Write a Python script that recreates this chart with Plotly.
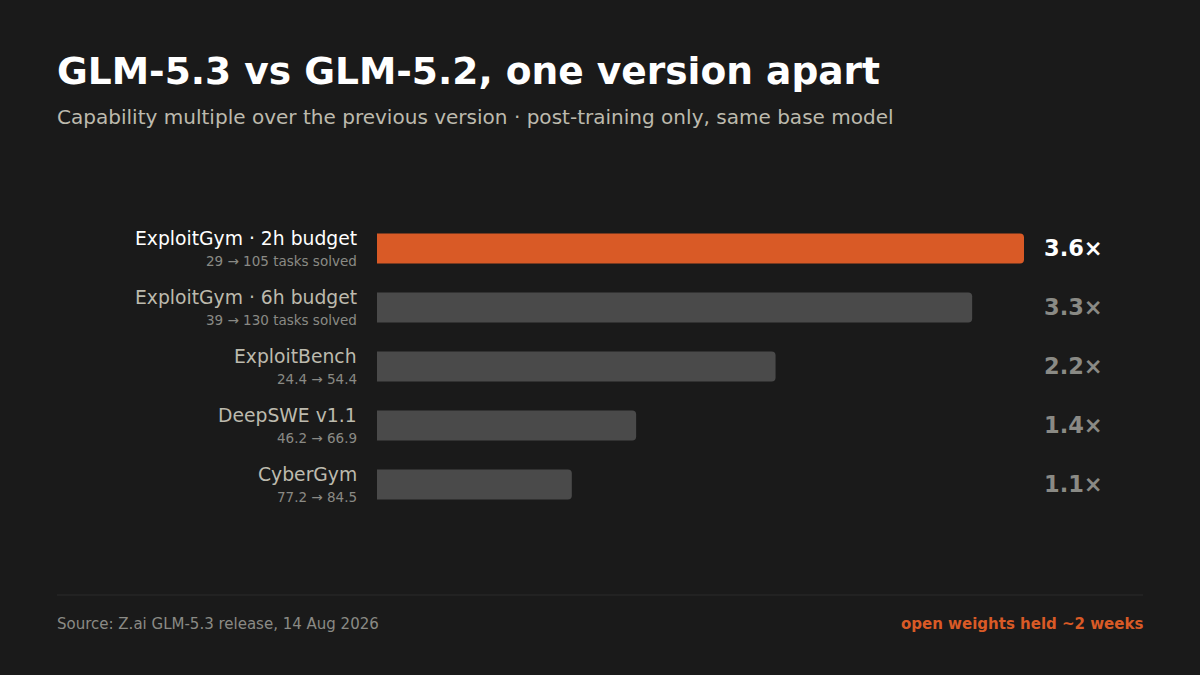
import plotly.graph_objects as go

# Donnees
benchmarks = ["ExploitGym · 2h budget", "ExploitGym · 6h budget", "ExploitBench", "DeepSWE v1.1", "CyberGym"]
details = ["29 → 105 tasks solved", "39 → 130 tasks solved", "24.4 → 54.4", "46.2 → 66.9", "77.2 → 84.5"]
multiples = [3.62, 3.33, 2.23, 1.45, 1.09]
multiple_labels = ["3.6×", "3.3×", "2.2×", "1.4×", "1.1×"]

BG = "#1a1a1a"
ORANGE = "#d95a26"
GREY_BAR = "#4a4a4a"
SOFT_TEXT = "#bdbaae"
DIM_TEXT = "#8a8a85"
FONT = "DejaVu Sans"

W, H = 1200, 675
PLOT_L, PLOT_R = 377, 1024
PLOT_T, PLOT_B = 219, 514

colors = [ORANGE] + [GREY_BAR] * 4

fig = go.Figure(go.Bar(
    x=multiples, y=benchmarks, orientation="h",
    marker=dict(color=colors, line=dict(width=0)),
    hoverinfo="skip",
))

fig.update_layout(
    width=W, height=H,
    paper_bgcolor=BG, plot_bgcolor=BG,
    showlegend=False,
    bargap=0.49,
    barcornerradius=4,
    margin=dict(l=PLOT_L, r=W - PLOT_R, t=PLOT_T, b=H - PLOT_B, pad=0, autoexpand=False),
    font=dict(family=FONT),
)
fig.update_xaxes(range=[0, 3.62], visible=False, fixedrange=True)
fig.update_yaxes(autorange="reversed", visible=False, fixedrange=True)


def add_text(x, y, text, size, color, anchor="left", bold=False):
    # positions en pixels, ramenees au repere du papier
    # (les annotations ont environ 2 px de marge interne)
    shift = -2 if anchor == "left" else 2
    fig.add_annotation(
        xref="paper", yref="paper",
        x=(x + shift - PLOT_L) / (PLOT_R - PLOT_L),
        y=(PLOT_B - y) / (PLOT_B - PLOT_T),
        text=f"<b>{text}</b>" if bold else text,
        showarrow=False, xanchor=anchor, yanchor="middle", align=anchor,
        font=dict(size=size, color=color, family=FONT),
    )


add_text(57, 71.3, "GLM-5.3 vs GLM-5.2, one version apart", 37.55, "#ffffff", bold=True)
add_text(57, 117, "Capability multiple over the previous version · post-training only, same base model", 20.05, SOFT_TEXT)

for i, name in enumerate(benchmarks):
    cy = 248 + i * 59
    add_text(357, cy - 10, name, 18.75, "#ffffff" if i == 0 else SOFT_TEXT, anchor="right")
    add_text(357, cy + 13, details[i], 13.5, DIM_TEXT, anchor="right")
    add_text(1044, cy, multiple_labels[i], 22.5, "#ffffff" if i == 0 else DIM_TEXT, bold=True)

add_text(57, 623.5, "Source: Z.ai GLM-5.3 release, 14 Aug 2026", 15, DIM_TEXT)
add_text(1143, 623.5, "open weights held ~2 weeks", 15, ORANGE, anchor="right", bold=True)

fig.add_shape(
    type="line", xref="paper", yref="paper",
    x0=(57 - PLOT_L) / (PLOT_R - PLOT_L), x1=(1143 - PLOT_L) / (PLOT_R - PLOT_L),
    y0=(PLOT_B - 595) / (PLOT_B - PLOT_T), y1=(PLOT_B - 595) / (PLOT_B - PLOT_T),
    line=dict(color="#2a2a2a", width=1),
)

# enlever la marge par defaut de la page
fig.write_html(
    "out.html",
    config=dict(displayModeBar=False),
    post_script="document.body.style.margin='0';document.body.style.background='#1a1a1a';",
)
